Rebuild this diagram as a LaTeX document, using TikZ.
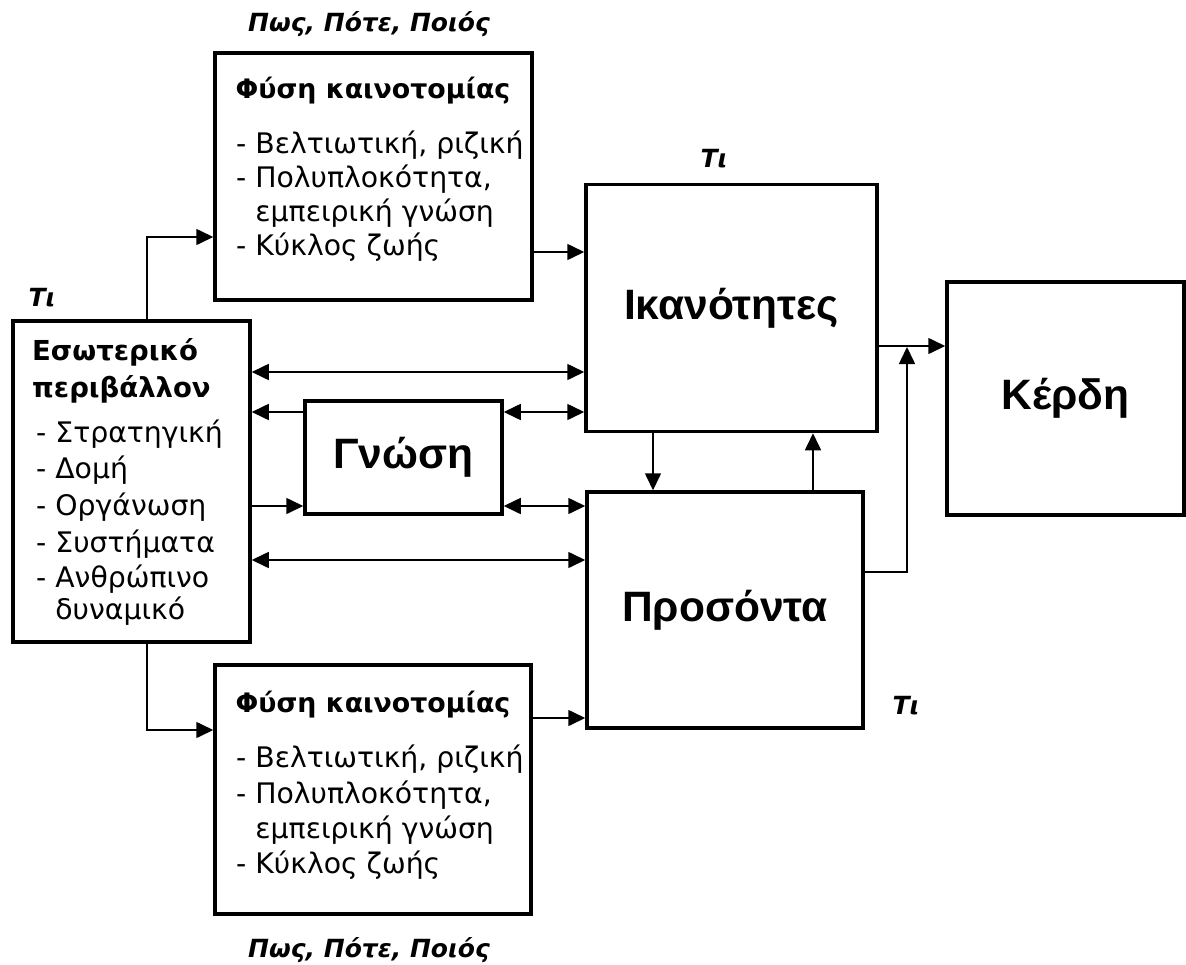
\documentclass[tikz,border=0pt]{standalone}
\usepackage{fontspec}
\setmainfont{DejaVu Sans}
\newfontfamily\bigfont{Liberation Sans}
\usetikzlibrary{arrows.meta}
\begin{document}
\begin{tikzpicture}[x=1pt,y=-1pt,
  box/.style={draw, line width=3.5pt, inner sep=0, rectangle},
  tip/.tip={Triangle[length=17pt,width=16pt]},
  conn/.style={line width=1.6pt, -tip},
  dconn/.style={line width=1.6pt, tip-tip},
  txt/.style={inner sep=0, anchor=base west, font=\fontsize{28.3}{34}\selectfont},
  head/.style={inner sep=0, anchor=base west, font=\fontsize{27.5}{34}\selectfont\bfseries},
  headc/.style={inner sep=0, anchor=base, font=\fontsize{26.8}{34}\selectfont\bfseries},
  big/.style={font=\bigfont\fontsize{42.5}{48}\selectfont\bfseries},
  lab/.style={inner sep=0, anchor=base, font=\fontsize{25}{30}\selectfont\bfseries\itshape}]
\useasboundingbox (0,0) rectangle (1186,964);
\fill[white] (0,0) rectangle (1186,964);

% boxes
\node[box, minimum width=317pt, minimum height=247pt] (fyst) at (373.5,176.5) {};
\node[box, minimum width=316pt, minimum height=249pt] (fysb) at (373,789.5) {};
\node[box, minimum width=237pt, minimum height=321pt] (esw) at (131.5,481.5) {};
\node[box, big, minimum width=197pt, minimum height=113pt] (gn) at (403.5,457.5) {Γνώση};
\node[box, big, minimum width=291pt, minimum height=247pt] (ikan) at (731.5,308) {Ικανότητες};
\node[box, big, minimum width=276pt, minimum height=236pt] (pros) at (725,610) {Προσόντα};
\node[box, big, minimum width=237pt, minimum height=233pt] (kerdi) at (1065.5,398.5) {Κέρδη};

% labels
\node[lab] (pt) at (369,31) {Πως, Πότε, Ποιός};
\node[lab] (pb) at (369,957) {Πως, Πότε, Ποιός};
\node[lab] (t1) at (42,306) {Τι};
\node[lab] (t2) at (714,167) {Τι};
\node[lab] (t3) at (906,714) {Τι};

% top Fysi text
\node[headc] (ft0) at (373,98) {Φύση καινοτομίας};
\node[txt] (ft1) at (236,153) {- Βελτιωτική, ριζική};
\node[txt] (ft2) at (236,187) {- Πολυπλοκότητα,};
\node[txt] (ft3) at (236,221) {\phantom{- }εμπειρική γνώση};
\node[txt] (ft4) at (236,255) {- Κύκλος ζωής};

% bottom Fysi text
\node[headc] (fb0) at (373,712) {Φύση καινοτομίας};
\node[txt] (fb1) at (236,767) {- Βελτιωτική, ριζική};
\node[txt] (fb2) at (236,803) {- Πολυπλοκότητα,};
\node[txt] (fb3) at (236,838) {\phantom{- }εμπειρική γνώση};
\node[txt] (fb4) at (236,873) {- Κύκλος ζωής};

% Esoteriko text
\node[head] (e0) at (32,360) {Εσωτερικό};
\node[head] (e1) at (32,397) {περιβάλλον};
\node[txt] (e2) at (36,442) {- Στρατηγική};
\node[txt] (e3) at (36,478) {- Δομή};
\node[txt] (e4) at (36,515) {- Οργάνωση};
\node[txt] (e5) at (36,552) {- Συστήματα};
\node[txt] (e6) at (36,587) {- Ανθρώπινο};
\node[txt] (e7) at (36,619) {\phantom{- }δυναμικό};

% helper coordinates
\coordinate (c1) at (147,237);
\coordinate (c2) at (147,730);
\coordinate (y252) at (0,252);
\coordinate (y372) at (0,372);
\coordinate (y412) at (0,412);
\coordinate (y506) at (0,506);
\coordinate (y560) at (0,560);
\coordinate (y718) at (0,718);
\coordinate (y346) at (0,346);
\coordinate (y572) at (0,572);
\coordinate (x653) at (653,0);
\coordinate (x813) at (813,0);
\coordinate (j) at (907,347);

% connectors
\draw[conn] (esw.north -| c1) |- (fyst.west |- c1);
\draw[conn] (esw.south -| c2) |- (fysb.west |- c2);
\draw[conn] (fyst.east |- y252) -- (ikan.west |- y252);
\draw[conn] (fysb.east |- y718) -- (pros.west |- y718);
\draw[dconn] (esw.east |- y372) -- (ikan.west |- y372);
\draw[conn] (gn.west |- y412) -- (esw.east |- y412);
\draw[dconn] (gn.east |- y412) -- (ikan.west |- y412);
\draw[conn] (esw.east |- y506) -- (gn.west |- y506);
\draw[dconn] (gn.east |- y506) -- (pros.west |- y506);
\draw[dconn] (esw.east |- y560) -- (pros.west |- y560);
\draw[conn] (ikan.south -| x653) -- (pros.north -| x653);
\draw[conn] (pros.north -| x813) -- (ikan.south -| x813);
\draw[conn] (ikan.east |- y346) -- (kerdi.west |- y346);
\draw[conn] (pros.east |- y572) -| (j);
\end{tikzpicture}
\end{document}
